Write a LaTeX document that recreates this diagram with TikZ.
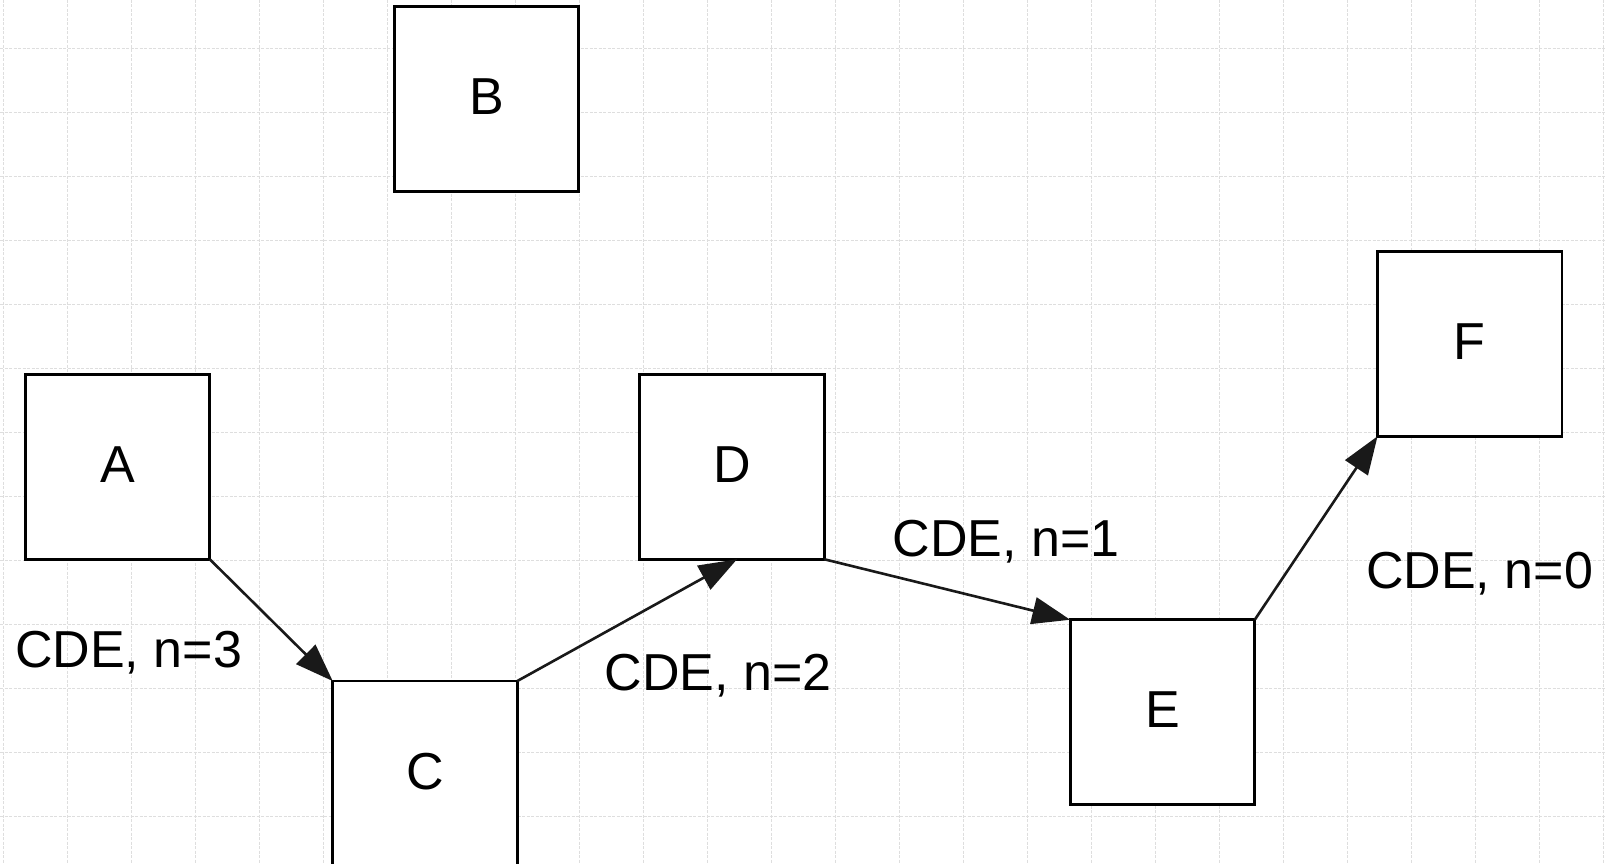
\documentclass[tikz,border=0pt]{standalone}
\usepackage{fontspec}
\setmainfont{Liberation Sans}
\usetikzlibrary{arrows.meta}
\definecolor{gridgray}{gray}{0.87}
\definecolor{edgeblack}{gray}{0.1}
\begin{document}
\begin{tikzpicture}[x=1pt,y=-1pt,
  box/.style={draw=black,fill=white,line width=2.6pt,minimum width=184.5pt,minimum height=184.5pt,inner sep=0pt,outer sep=0pt,text depth=4pt,font=\fontsize{52}{60}\selectfont},
  lbl/.style={anchor=base west,inner sep=0pt,font=\fontsize{52}{60}\selectfont},
  conn/.style={draw=edgeblack,line width=2.6pt,-{Triangle[length=38pt,width=27pt]}},
  gridline/.style={draw=gridgray,line width=1pt,dash pattern=on 3pt off 1.5pt}]
\useasboundingbox (0,0) rectangle (1606,864);
\fill[white] (0,0) rectangle (1606,864);
% grid
\foreach \i in {0,...,25} {
  \draw[gridline] (3.5+64*\i,0) -- (3.5+64*\i,864);
}
\foreach \j in {0,...,12} {
  \draw[gridline] (0,48.7+64*\j) -- (1606,48.7+64*\j);
}
% boxes
\node[box] (A) at (117.5,467) {A};
\node[box] (B) at (486.5,99) {B};
\node[box] (C) at (425,773.3) {C};
\node[box] (D) at (732,467) {D};
\node[box] (E) at (1162.5,712) {E};
\node[box] (F) at (1469.8,344) {F};
% connectors
\draw[conn] (A.south east) -- (C.north west);
\draw[conn] (C.north east) -- ([xshift=5pt]D.south);
\draw[conn] (D.south east) -- (E.north west);
\draw[conn] (E.north east) -- (F.south west);
% labels
\node[lbl] (l3) at (15,667) {CDE, n=3};
\node[lbl] (l2) at (604.5,690.5) {CDE, n=2};
\node[lbl] (l1) at (892.5,556) {CDE, n=1};
\node[lbl] (l0) at (1366,588) {CDE, n=0};
\end{tikzpicture}
\end{document}
